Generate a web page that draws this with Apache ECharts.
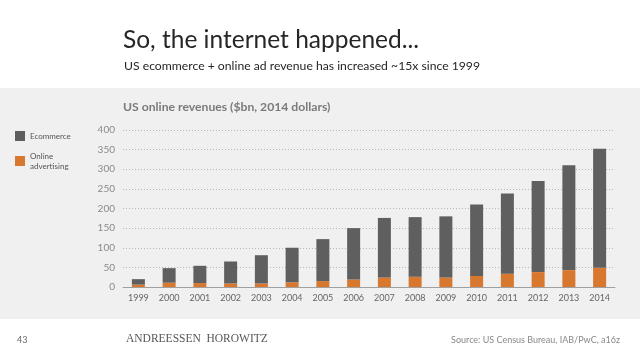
<!DOCTYPE html>
<html>
<head>
<meta charset="utf-8">
<script src="https://cdn.jsdelivr.net/npm/echarts@6/dist/echarts.min.js"></script>
<style>
html,body{margin:0;padding:0;background:#fff;}
#c{width:640px;height:360px;}
</style>
</head>
<body>
<div id="c"></div>
<script>
var years = ['1999','2000','2001','2002','2003','2004','2005','2006','2007','2008','2009','2010','2011','2012','2013','2014'];
var ecommerce = [14, 37, 44, 56, 72, 88, 107, 131, 152, 152, 156, 182, 204, 232, 267, 303];
var advertising = [6, 11, 10, 9, 9, 12, 15, 19, 24, 26, 24, 28, 34, 38, 43, 49];
var yTicks = [0, 50, 100, 150, 200, 250, 300, 350, 400];

var chart = echarts.init(document.getElementById('c'), null, {renderer:'canvas'});
var font = 'Lato, "Open Sans", sans-serif';
chart.setOption({
  animation: false,
  backgroundColor: '#ffffff',
  graphic: [
    {type:'rect', shape:{x:0, y:88, width:640, height:231}, style:{fill:'#f0f0f1'}, z:-10, silent:true}
  ],
  title: [
    {text:'So, the internet happened...', left:118, top:23, textStyle:{fontFamily:font, fontSize:24.5, fontWeight:'normal', color:'#262626'}},
    {text:'US ecommerce + online ad revenue has increased ~15x since 1999', left:119, top:55, textStyle:{fontFamily:font, fontSize:12.2, fontWeight:'normal', color:'#262626'}},
    {text:'US online revenues ($bn, 2014 dollars)', left:118, top:96, textStyle:{fontFamily:font, fontSize:12.2, fontWeight:'bold', color:'#7a7a7a'}},
    {text:'43', left:12, top:331, textStyle:{fontFamily:font, fontSize:9, fontWeight:'normal', color:'#666'}},
    {text:'ANDREESSEN  HOROWITZ', left:121, top:328, textStyle:{fontFamily:'"Liberation Serif", "DejaVu Serif", serif', fontSize:11.5, fontWeight:'normal', color:'#555'}},
    {text:'Source: US Census Bureau, IAB/PwC, a16z', right:15, top:331, textStyle:{fontFamily:font, fontSize:9, fontWeight:'normal', color:'#888'}}
  ],
  legend: {
    orient:'vertical', left:10, top:126, itemWidth:10, itemHeight:10, itemGap:10,
    icon:'rect',
    data:['Ecommerce','Online advertising'],
    formatter: function(n){ return n === 'Online advertising' ? 'Online\nadvertising' : n; },
    textStyle:{fontFamily:font, fontSize:8, color:'#555', lineHeight:10}
  },
  grid: {left:123, right:25, top:130, bottom:73},
  xAxis: {
    type:'category', data: years,
    axisLine:{lineStyle:{color:'#a0a0a0', width:1}},
    axisTick:{show:false},
    axisLabel:{fontFamily:font, fontSize:9, color:'#666', margin:7}
  },
  yAxis: {
    type:'value', min:yTicks[0], max:yTicks[yTicks.length-1], interval:50,
    axisLine:{show:false}, axisTick:{show:false},
    axisLabel:{fontFamily:font, fontSize:10, color:'#8a8a8a', margin:8},
    splitLine:{lineStyle:{color:'#b8b8b8', type:[1,2], width:1}}
  },
  series: [
    {name:'Online advertising', type:'bar', stack:'t', data:advertising, barWidth:13, itemStyle:{color:'#d8772e'}},
    {name:'Ecommerce', type:'bar', stack:'t', data:ecommerce, barWidth:13, itemStyle:{color:'#5f5f5f'}}
  ]
});
</script>
</body>
</html>
